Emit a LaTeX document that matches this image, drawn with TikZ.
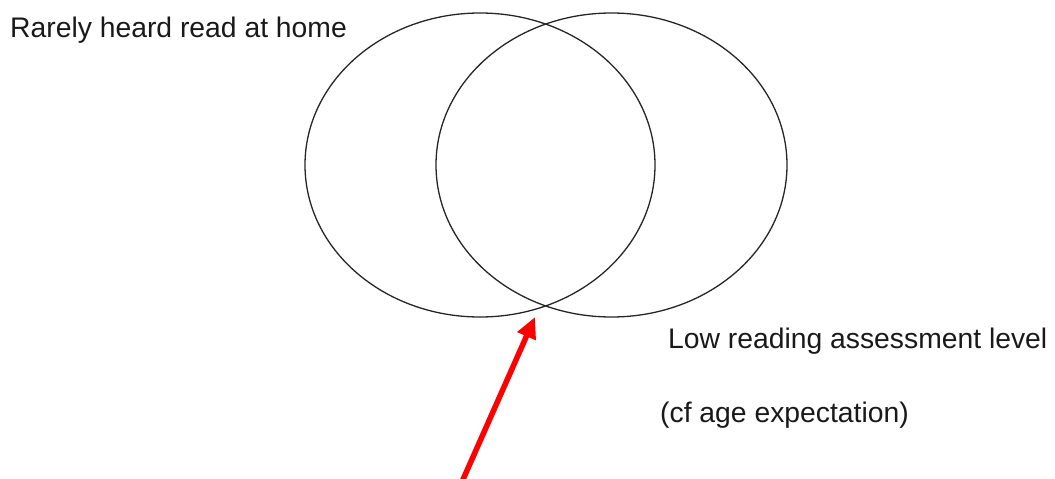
\documentclass[tikz,border=0pt]{standalone}
\usepackage{fontspec}
\setmainfont{Liberation Sans}
\usetikzlibrary{shapes.geometric,arrows.meta}
\tikzset{
  setcircle/.style={draw=black!85, line width=1.3pt, ellipse, inner sep=0pt, minimum width=350pt, minimum height=304pt},
  lbl/.style={anchor=base west, inner sep=0pt, font=\fontsize{28.3}{34}\selectfont, text=black!90},
  redarrow/.style={draw=red, line width=5.5pt, -{Triangle[length=21pt,width=19pt]}}
}
\begin{document}
\begin{tikzpicture}[x=1pt,y=-1pt]
\useasboundingbox (0,0) rectangle (1055,479);
\node[setcircle] (home) at (480,165) {};
\node[setcircle, minimum width=351pt] (low) at (611.5,165) {};
\node[lbl] (t1) at (10,37) {Rarely\ heard\ read\ at\ home};
\node[lbl] (t2) at (668,348) {Low\ reading\ assessment\ level};
\node[lbl] (t3) at (660,422) {(cf age expectation)};
\coordinate (tail) at (461,484);
\coordinate (tip) at (535,317);
\draw[redarrow] (tail) -- (tip);
\end{tikzpicture}
\end{document}
